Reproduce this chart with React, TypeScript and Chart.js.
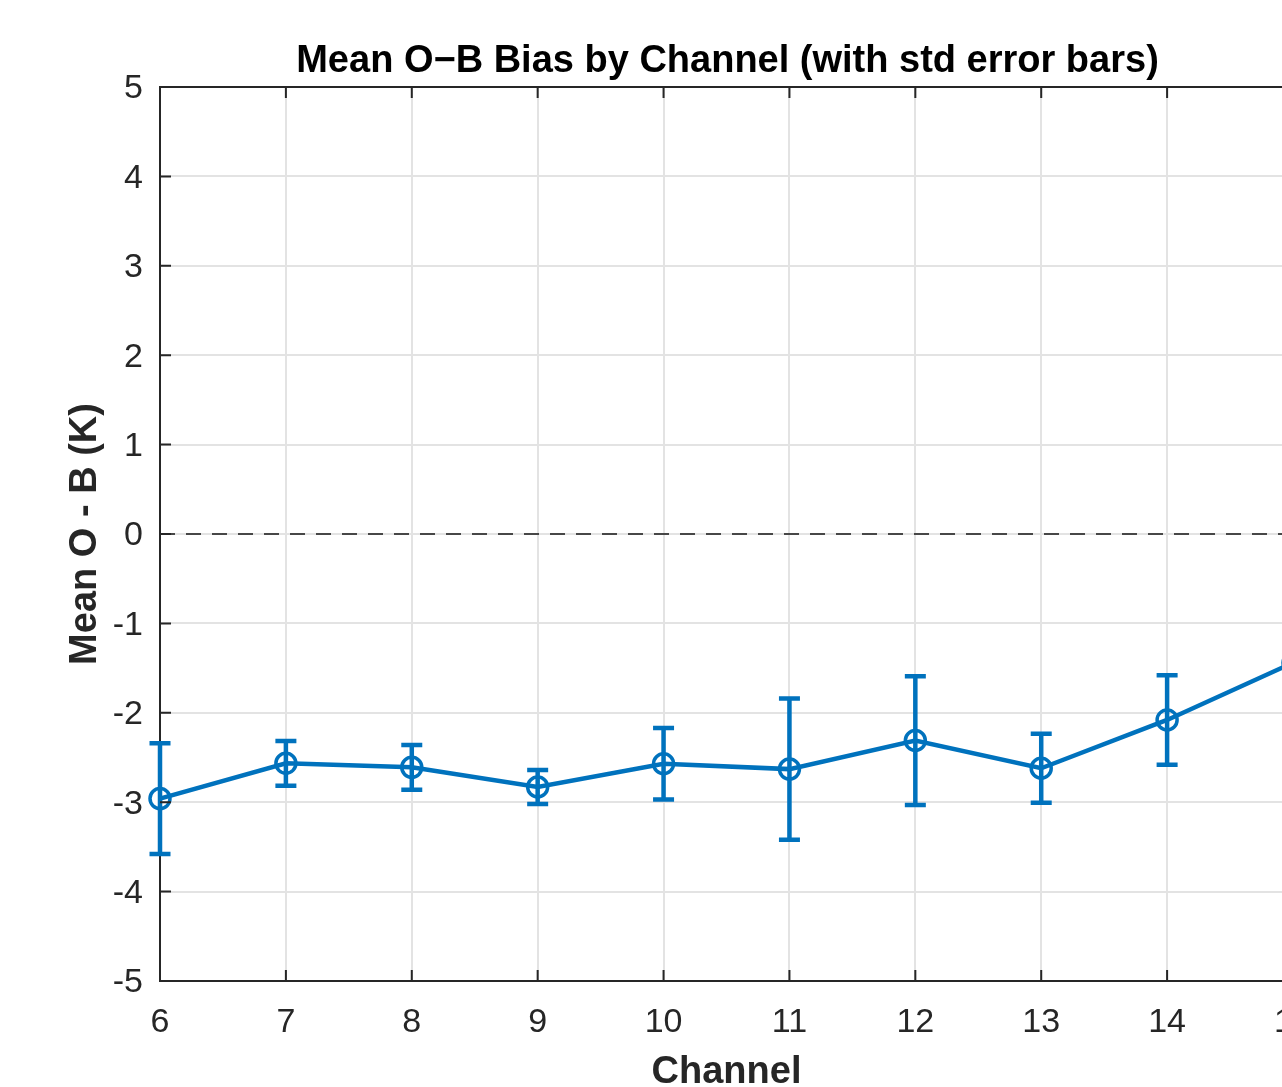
import React, { useEffect, useRef } from "react";
import { Chart, registerables } from "chart.js";

Chart.register(...registerables);

const channels = [6, 7, 8, 9, 10, 11, 12, 13, 14, 15];
const meanBias = [-2.96, -2.565, -2.61, -2.83, -2.57, -2.63, -2.31, -2.62, -2.08, -1.44];
const stdBias = [0.62, 0.25, 0.25, 0.19, 0.4, 0.79, 0.72, 0.385, 0.5, 0.45];
const yTickMin = -5;
const yTickMax = 5;
const xTickMin = 6;
const xTickMax = 15;

const TITLE = "Mean O\u2212B Bias by Channel (with std error bars)";
const XLABEL = "Channel";
const YLABEL = "Mean O - B (K)";

const BLUE = "#0072BD";
const AXIS = "#262626";
const FONT = '"Liberation Sans", Arial, Helvetica, sans-serif';

const decorPlugin = {
  id: "decor",
  afterDatasetsDraw(chart: any) {
    const ctx = chart.ctx;
    const xs = chart.scales.x;
    const ys = chart.scales.y;
    ctx.save();
    ctx.strokeStyle = BLUE;
    ctx.lineWidth = 4.5;
    ctx.lineCap = "butt";
    const cap = 10.5;
    for (let i = 0; i < channels.length; i++) {
      const px = xs.getPixelForValue(channels[i]);
      const top = ys.getPixelForValue(meanBias[i] + stdBias[i]);
      const bot = ys.getPixelForValue(meanBias[i] - stdBias[i]);
      ctx.beginPath();
      ctx.moveTo(px, top);
      ctx.lineTo(px, bot);
      ctx.moveTo(px - cap, top);
      ctx.lineTo(px + cap, top);
      ctx.moveTo(px - cap, bot);
      ctx.lineTo(px + cap, bot);
      ctx.stroke();
    }
    ctx.restore();
  },
  afterDraw(chart: any) {
    const ctx = chart.ctx;
    const area = chart.chartArea;
    const xs = chart.scales.x;
    const ys = chart.scales.y;
    ctx.save();
    ctx.strokeStyle = AXIS;
    ctx.lineWidth = 2;
    ctx.beginPath();
    ctx.moveTo(area.left - 1, area.top);
    ctx.lineTo(area.right + 1, area.top);
    ctx.stroke();
    const tl = 11;
    ctx.beginPath();
    for (let v = xTickMin; v <= xTickMax; v++) {
      const px = xs.getPixelForValue(v);
      ctx.moveTo(px, area.bottom);
      ctx.lineTo(px, area.bottom - tl);
      ctx.moveTo(px, area.top);
      ctx.lineTo(px, area.top + tl);
    }
    for (let v = yTickMin; v <= yTickMax; v++) {
      const py = ys.getPixelForValue(v);
      ctx.moveTo(area.left, py);
      ctx.lineTo(area.left + tl, py);
    }
    ctx.stroke();
    const cx = (area.left + area.right) / 2;
    ctx.fillStyle = "#000";
    ctx.font = `bold 38px ${FONT}`;
    ctx.textAlign = "center";
    ctx.textBaseline = "alphabetic";
    ctx.fillText(TITLE, cx + 1, 72);
    ctx.fillStyle = AXIS;
    ctx.fillText(XLABEL, cx, 1083);
    ctx.translate(96, (area.top + area.bottom) / 2);
    ctx.rotate(-Math.PI / 2);
    ctx.fillText(YLABEL, 0, 0);
    ctx.restore();
  },
};

export default function App() {
  const ref = useRef<HTMLCanvasElement | null>(null);
  useEffect(() => {
    if (!ref.current) return;
    const chart = new Chart(ref.current, {
      type: "line",
      data: {
        datasets: [
          {
            label: "zero",
            data: [
              { x: xTickMin, y: 0 },
              { x: xTickMax, y: 0 },
            ],
            borderColor: "#474747",
            borderWidth: 2,
            borderDash: [15, 11],
            pointRadius: 0,
            fill: false,
          },
          {
            label: "Mean O-B",
            data: channels.map((c, i) => ({ x: c, y: meanBias[i] })),
            borderColor: BLUE,
            borderWidth: 4.5,
            pointStyle: "circle",
            pointRadius: 10,
            pointBorderWidth: 3.5,
            pointBorderColor: BLUE,
            pointBackgroundColor: "rgba(0,0,0,0)",
            fill: false,
            tension: 0,
            clip: false as any,
          },
        ],
      },
      options: {
        responsive: false,
        animation: false,
        layout: { padding: { left: 0, top: 87, right: 167, bottom: 0 } },
        plugins: { legend: { display: false }, tooltip: { enabled: false }, title: { display: false } },
        scales: {
          x: {
            type: "linear",
            min: xTickMin,
            max: xTickMax,
            ticks: {
              stepSize: 1,
              color: AXIS,
              font: { family: FONT, size: 34 },
              padding: 21,
              maxRotation: 0,
              autoSkip: false,
            },
            grid: { color: "#e3e3e3", lineWidth: 2, drawTicks: false, tickLength: 0 },
            border: { display: true, color: AXIS, width: 2 },
            afterFit: (s: any) => {
              s.height = 106;
            },
          },
          y: {
            type: "linear",
            min: yTickMin,
            max: yTickMax,
            ticks: {
              stepSize: 1,
              color: AXIS,
              font: { family: FONT, size: 34 },
              padding: 17,
              labelOffset: 2,
            },
            grid: { color: "#e3e3e3", lineWidth: 2, drawTicks: false, tickLength: 0 },
            border: { display: true, color: AXIS, width: 2 },
            afterFit: (s: any) => {
              s.width = 160;
            },
          },
        },
      },
      plugins: [decorPlugin],
    });
    return () => chart.destroy();
  }, []);
  return (
    <div
      style={{
        position: "absolute",
        left: 0,
        top: 0,
        width: 1282,
        height: 1087,
        overflow: "hidden",
        background: "#fff",
      }}
    >
      <canvas ref={ref} width={1460} height={1087} style={{ width: 1460, height: 1087, display: "block" }} />
    </div>
  );
}
